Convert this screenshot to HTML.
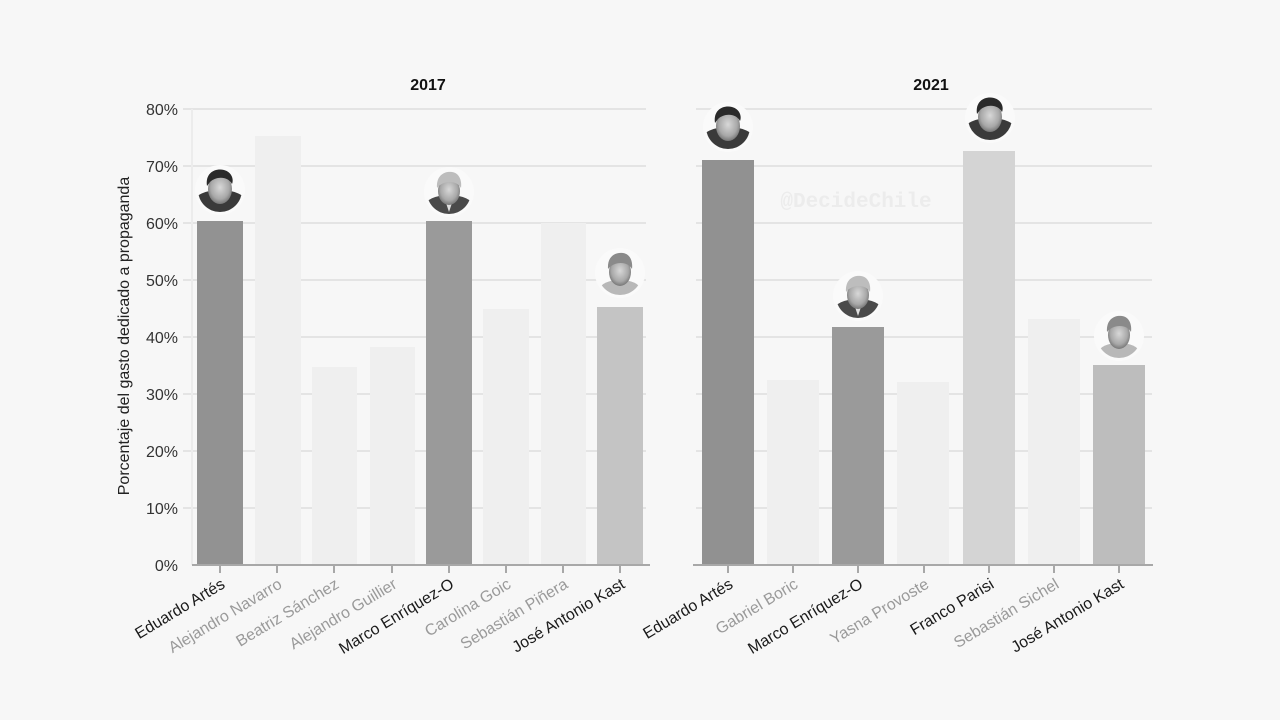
<!DOCTYPE html>
<html><head><meta charset="utf-8"><style>
html,body{margin:0;padding:0;background:#f7f7f7;}
svg{display:block;}
text{font-family:"Liberation Sans",sans-serif;}
</style></head><body>
<svg width="1280" height="720" viewBox="0 0 1280 720" xmlns="http://www.w3.org/2000/svg">
<defs>
<radialGradient id="skin" cx="50%" cy="45%" r="55%">
<stop offset="0" stop-color="#d8d8d8"/><stop offset="0.7" stop-color="#a8a8a8"/><stop offset="1" stop-color="#777"/>
</radialGradient>
<clipPath id="c1"><circle cx="0" cy="0" r="22"/></clipPath>
<g id="faceDark">
<circle r="25" fill="#fafafa"/>
<g clip-path="url(#c1)">
<rect x="-23" y="-23" width="46" height="46" fill="#fafafa"/>
<ellipse cx="0" cy="12" rx="26" ry="12" fill="#3a3a3a"/>
<ellipse cx="0" cy="-1" rx="12" ry="15" fill="url(#skin)"/>
<path d="M-13,-4 C-15,-18 -4,-22 4,-20 C12,-18 14,-10 12,-6 C8,-14 -4,-14 -10,-8 Z" fill="#2a2a2a"/>
</g>
</g>
<g id="faceGray">
<circle r="25" fill="#fafafa"/>
<g clip-path="url(#c1)">
<rect x="-23" y="-23" width="46" height="46" fill="#fafafa"/>
<ellipse cx="0" cy="14" rx="24" ry="11" fill="#4a4a4a"/>
<path d="M-4,8 L0,20 L4,8 Z" fill="#e0e0e0"/>
<ellipse cx="0" cy="-1" rx="11" ry="14" fill="url(#skin)"/>
<path d="M-12,-4 C-13,-18 -3,-21 3,-20 C10,-19 13,-12 12,-4 C8,-12 -6,-12 -12,-4 Z" fill="#bdbdbd"/>
</g>
</g>
<g id="faceLight">
<circle r="25" fill="#fafafa"/>
<g clip-path="url(#c1)">
<rect x="-23" y="-23" width="46" height="46" fill="#fafafa"/>
<ellipse cx="0" cy="16" rx="20" ry="9" fill="#b8b8b8"/>
<ellipse cx="0" cy="-1" rx="11" ry="14" fill="url(#skin)"/>
<path d="M-12,-4 C-13,-18 -3,-21 3,-20 C10,-19 13,-12 12,-4 C8,-12 -6,-12 -12,-4 Z" fill="#8a8a8a"/>
</g>
</g>
</defs>

<!-- watermark -->
<text x="856" y="207" text-anchor="middle" font-size="21" font-weight="bold" fill="#ececec" style="font-family:'Liberation Mono',monospace">@DecideChile</text>

<!-- titles -->
<text x="428" y="90" text-anchor="middle" font-size="16" font-weight="bold" fill="#111">2017</text>
<text x="931" y="90" text-anchor="middle" font-size="16" font-weight="bold" fill="#111">2021</text>

<!-- left gridlines -->
<g stroke="#e4e4e4" stroke-width="2">
<line x1="183" y1="109" x2="646" y2="109"/>
<line x1="183" y1="166" x2="646" y2="166"/>
<line x1="183" y1="223" x2="646" y2="223"/>
<line x1="183" y1="280" x2="646" y2="280"/>
<line x1="183" y1="337" x2="646" y2="337"/>
<line x1="183" y1="394" x2="646" y2="394"/>
<line x1="183" y1="451" x2="646" y2="451"/>
<line x1="183" y1="508" x2="646" y2="508"/>
<line x1="192" y1="109" x2="192" y2="565" stroke="#ececec"/>
</g>
<!-- right gridlines -->
<g stroke="#e4e4e4" stroke-width="2">
<line x1="696" y1="109" x2="1152" y2="109"/>
<line x1="696" y1="166" x2="1152" y2="166"/>
<line x1="696" y1="223" x2="1152" y2="223"/>
<line x1="696" y1="280" x2="1152" y2="280"/>
<line x1="696" y1="337" x2="1152" y2="337"/>
<line x1="696" y1="394" x2="1152" y2="394"/>
<line x1="696" y1="451" x2="1152" y2="451"/>
<line x1="696" y1="508" x2="1152" y2="508"/>
</g>

<!-- y tick labels -->
<g font-size="16" fill="#333" text-anchor="end">
<text x="178" y="115">80%</text>
<text x="178" y="172">70%</text>
<text x="178" y="229">60%</text>
<text x="178" y="286">50%</text>
<text x="178" y="343">40%</text>
<text x="178" y="400">30%</text>
<text x="178" y="457">20%</text>
<text x="178" y="514">10%</text>
<text x="178" y="571">0%</text>
</g>
<text transform="translate(129,336) rotate(-90)" text-anchor="middle" font-size="16" fill="#222">Porcentaje del gasto dedicado a propaganda</text>

<!-- left bars -->
<rect x="197" y="221" width="46" height="344" fill="#929292"/>
<rect x="255" y="136" width="46" height="429" fill="#efefef"/>
<rect x="312" y="367" width="45" height="198" fill="#efefef"/>
<rect x="370" y="347" width="45" height="218" fill="#efefef"/>
<rect x="426" y="221" width="46" height="344" fill="#9a9a9a"/>
<rect x="483" y="309" width="46" height="256" fill="#efefef"/>
<rect x="541" y="223" width="45" height="342" fill="#efefef"/>
<rect x="597" y="307" width="46" height="258" fill="#c4c4c4"/>

<!-- right bars -->
<rect x="702" y="160" width="52" height="405" fill="#919191"/>
<rect x="767" y="380" width="52" height="185" fill="#efefef"/>
<rect x="832" y="327" width="52" height="238" fill="#9a9a9a"/>
<rect x="897" y="382" width="52" height="183" fill="#efefef"/>
<rect x="963" y="151" width="52" height="414" fill="#d4d4d4"/>
<rect x="1028" y="319" width="52" height="246" fill="#efefef"/>
<rect x="1093" y="365" width="52" height="200" fill="#bdbdbd"/>

<!-- baselines and ticks -->
<g stroke="#a8a8a8" stroke-width="2">
<line x1="192" y1="565" x2="650" y2="565"/>
<line x1="693" y1="565" x2="1153" y2="565"/>
<line x1="220" y1="565" x2="220" y2="573"/>
<line x1="277" y1="565" x2="277" y2="573"/>
<line x1="334" y1="565" x2="334" y2="573"/>
<line x1="392" y1="565" x2="392" y2="573"/>
<line x1="449" y1="565" x2="449" y2="573"/>
<line x1="506" y1="565" x2="506" y2="573"/>
<line x1="563" y1="565" x2="563" y2="573"/>
<line x1="620" y1="565" x2="620" y2="573"/>
<line x1="728" y1="565" x2="728" y2="573"/>
<line x1="793" y1="565" x2="793" y2="573"/>
<line x1="858" y1="565" x2="858" y2="573"/>
<line x1="924" y1="565" x2="924" y2="573"/>
<line x1="989" y1="565" x2="989" y2="573"/>
<line x1="1054" y1="565" x2="1054" y2="573"/>
<line x1="1119" y1="565" x2="1119" y2="573"/>
</g>

<!-- faces -->
<use href="#faceDark" x="220" y="190"/>
<use href="#faceGray" x="449" y="192"/>
<use href="#faceLight" x="620" y="273"/>
<use href="#faceDark" x="728" y="127"/>
<use href="#faceDark" x="990" y="118"/>
<use href="#faceGray" x="858" y="296"/>
<use href="#faceLight" x="1119" y="336"/>

<!-- x labels -->
<g font-size="16" text-anchor="end">
<text transform="translate(226,587) rotate(-31)" fill="#1a1a1a">Eduardo Artés</text>
<text transform="translate(283,587) rotate(-31)" fill="#9a9a9a">Alejandro Navarro</text>
<text transform="translate(340,587) rotate(-31)" fill="#9a9a9a">Beatriz Sánchez</text>
<text transform="translate(398,587) rotate(-31)" fill="#9a9a9a">Alejandro Guillier</text>
<text transform="translate(455,587) rotate(-31)" fill="#1a1a1a">Marco Enríquez-O</text>
<text transform="translate(512,587) rotate(-31)" fill="#9a9a9a">Carolina Goic</text>
<text transform="translate(569,587) rotate(-31)" fill="#9a9a9a">Sebastián Piñera</text>
<text transform="translate(626,587) rotate(-31)" fill="#1a1a1a">José Antonio Kast</text>

<text transform="translate(734,587) rotate(-31)" fill="#1a1a1a">Eduardo Artés</text>
<text transform="translate(799,587) rotate(-31)" fill="#9a9a9a">Gabriel Boric</text>
<text transform="translate(864,587) rotate(-31)" fill="#1a1a1a">Marco Enríquez-O</text>
<text transform="translate(930,587) rotate(-31)" fill="#9a9a9a">Yasna Provoste</text>
<text transform="translate(995,587) rotate(-31)" fill="#1a1a1a">Franco Parisi</text>
<text transform="translate(1060,587) rotate(-31)" fill="#9a9a9a">Sebastián Sichel</text>
<text transform="translate(1125,587) rotate(-31)" fill="#1a1a1a">José Antonio Kast</text>
</g>
</svg>
</body></html>
